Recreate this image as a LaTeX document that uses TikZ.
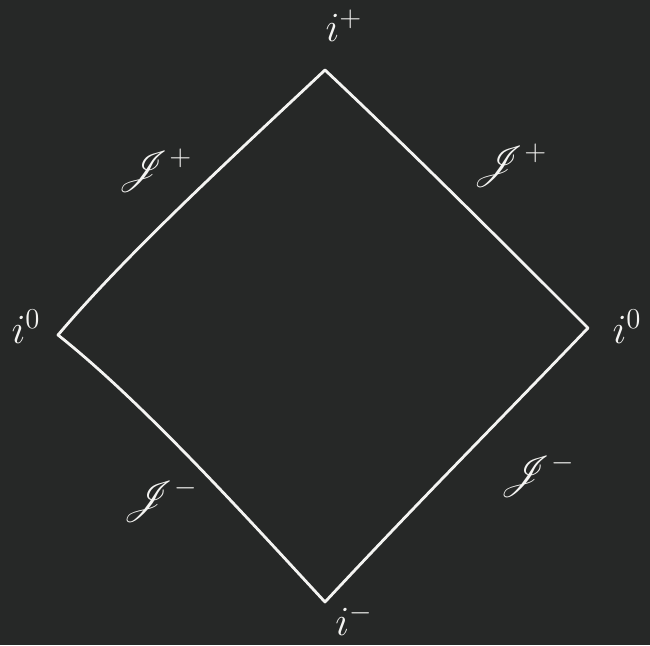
\documentclass[tikz,border=0pt]{standalone}
\usepackage{graphicx}
\usepackage{mathrsfs}
\definecolor{board}{HTML}{262827}
\definecolor{chalk}{HTML}{F4F4F2}
\newcommand{\biglab}[2]{\scalebox{#1}{\fontsize{20}{24}\selectfont$#2$}}
\begin{document}
\begin{tikzpicture}[x=1pt,y=-1pt,
  edge/.style={draw=chalk,line width=2.8pt,line cap=round,line join=round},
  lbl/.style={text=chalk,inner sep=0pt}]
\fill[board] (0,0) rectangle (650,645);
\useasboundingbox (0,0) rectangle (650,645);
\coordinate (T) at (325,70);
\coordinate (L) at (58,335);
\coordinate (R) at (588,328);
\coordinate (B) at (325,602);
\draw[edge] (T) .. controls (240,150) and (130,250) .. (L)
  .. controls (140,400) and (240,510) .. (B)
  .. controls (420,500) and (500,420) .. (R)
  .. controls (500,240) and (410,150) .. (T) -- cycle;
\node[lbl] (ip) at (344,26) {\biglab{2.0}{i^{+}}};
\node[lbl] (i0l) at (26,327) {\biglab{2.0}{i^{0}}};
\node[lbl] (i0r) at (627,327) {\biglab{2.0}{i^{0}}};
\node[lbl] (im) at (354,620) {\biglab{2.0}{i^{-}}};
\node[lbl] (Jpl) at (155,170) {\biglab{2.0}{\mathscr{J}^{+}}};
\node[lbl] (Jpr) at (510,165) {\biglab{2.0}{\mathscr{J}^{+}}};
\node[lbl] (Jml) at (160,500) {\biglab{2.0}{\mathscr{J}^{-}}};
\node[lbl] (Jmr) at (537,475) {\biglab{2.0}{\mathscr{J}^{-}}};
\end{tikzpicture}
\end{document}
